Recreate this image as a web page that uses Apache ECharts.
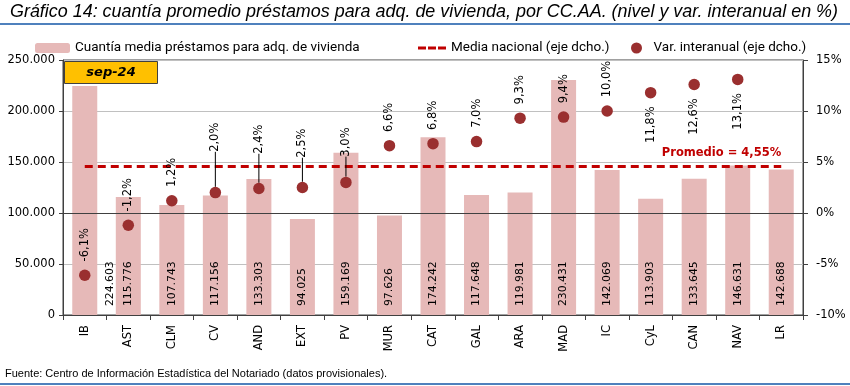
<!DOCTYPE html>
<html>
<head>
<meta charset="utf-8">
<script src="https://cdn.jsdelivr.net/npm/echarts@6/dist/echarts.min.js"></script>
<style>
html,body{margin:0;padding:0;background:#fff;}
#chart{width:850px;height:386px;}
</style>
</head>
<body>
<div id="chart"></div>
<script>
// ---- data ----
const categories = ['IB','AST','CLM','CV','AND','EXT','PV','MUR','CAT','GAL','ARA','MAD','IC','CyL','CAN','NAV','LR'];
const amounts = [224603,115776,107743,117156,133303,94025,159169,97626,174242,117648,119981,230431,142069,113903,133645,146631,142688];
const variation = [-6.1,-1.2,1.2,2.0,2.4,2.5,3.0,6.6,6.8,7.0,9.3,9.4,10.0,11.8,12.6,13.1,null];
const nationalAvg = 4.55;
const leftAxisTicks = [0,50000,100000,150000,200000,250000];
const rightAxisTicks = [-10,-5,0,5,10,15];
const periodLabel = 'sep-24';
const titleText = 'Gráfico 14: cuantía promedio préstamos para adq. de vivienda, por CC.AA. (nivel y var. interanual en %)';
const sourceText = 'Fuente: Centro de Información Estadística del Notariado (datos provisionales).';

// ---- label placement (style only) ----
const labelsBelow = ['CyL','CAN','NAV'];
const leaderShift = {CV:27, AND:21, EXT:16, PV:12};
const barLabelShift = {IB:25};

const FONT = 'DejaVu Sans';
const LEGFONT = 'Roboto';
const fmtThousands = v => String(v).replace(/\B(?=(\d{3})+(?!\d))/g,'.');
const fmtPct = (v,d) => v.toFixed(d===undefined?1:d).replace('.',',') + '%';

// measure title to squeeze it like a narrow font
const mc = document.createElement('canvas').getContext('2d');
mc.font = 'italic 19px "Liberation Sans"';
const titleScale = 828 / mc.measureText(titleText).width;

const chart = echarts.init(document.getElementById('chart'), null, {renderer:'canvas'});

const barData = amounts.map((v,i)=>{
  const c = categories[i];
  const o = {value:v};
  if (barLabelShift[c]) o.label = {offset:[0,barLabelShift[c]]};
  return o;
});

const scatterData = variation.map((v,i)=>{
  if (v === null) return {value:null};
  const c = categories[i];
  const below = labelsBelow.indexOf(c) >= 0;
  const o = {
    value:v,
    label: below ? {position:'bottom', align:'right'} : {position:'top', align:'left'}
  };
  if (leaderShift[c] !== undefined) o.labelLine = {show:true};
  return o;
});

const avgData = categories.map(()=>nationalAvg);

const option = {
  animation:false,
  backgroundColor:'#ffffff',
  legend:[
    {data:['Cuantía media préstamos para adq. de vivienda'], left:30, top:36, itemWidth:35, itemHeight:10, itemGap:0,
     textStyle:{fontFamily:LEGFONT, fontSize:13.5, color:'#000'}},
    {data:[{name:'Media nacional (eje dcho.)', icon:'path://M0,0H8V3H0Z M10,0H18V3H10Z M20,0H28V3H20Z'}],
     left:413, top:36, itemWidth:28, itemHeight:3,
     textStyle:{fontFamily:LEGFONT, fontSize:13.5, color:'#000'}},
    {data:[{name:'Var. interanual (eje dcho.)', icon:'circle'}], left:626, top:36, itemWidth:24, itemHeight:11,
     textStyle:{fontFamily:LEGFONT, fontSize:13.5, color:'#000'}}
  ],
  grid:{left:63, right:47, top:60, bottom:71, show:true, borderColor:'#404040', borderWidth:1, backgroundColor:'transparent'},
  xAxis:{
    type:'category', data:categories, boundaryGap:true,
    axisLine:{show:true, lineStyle:{color:'#404040', width:1}},
    axisTick:{show:true, alignWithLabel:false, length:5, lineStyle:{color:'#404040'}},
    axisLabel:{rotate:90, margin:10, fontFamily:FONT, fontSize:11.5, color:'#000', interval:0},
    splitLine:{show:false}
  },
  yAxis:[
    {type:'value', min:leftAxisTicks[0], max:leftAxisTicks[leftAxisTicks.length-1], interval:leftAxisTicks[1]-leftAxisTicks[0],
     position:'left',
     axisLine:{show:true, lineStyle:{color:'#404040'}},
     axisTick:{show:true, inside:false, length:4, lineStyle:{color:'#404040'}},
     axisLabel:{margin:8, fontFamily:FONT, fontSize:11.5, color:'#000', formatter:v=>fmtThousands(v)},
     splitLine:{show:true, lineStyle:{color:'#C0C0C0', width:1}}
    },
    {type:'value', min:rightAxisTicks[0], max:rightAxisTicks[rightAxisTicks.length-1], interval:rightAxisTicks[1]-rightAxisTicks[0],
     position:'right',
     axisLine:{show:true, lineStyle:{color:'#404040'}},
     axisTick:{show:true, inside:false, length:5, lineStyle:{color:'#404040'}},
     axisLabel:{margin:13, fontFamily:FONT, fontSize:11.5, color:'#000', formatter:v=>v+'%'},
     splitLine:{show:false}
    }
  ],
  series:[
    {
      name:'Cuantía media préstamos para adq. de vivienda',
      type:'bar', yAxisIndex:0, data:barData, barWidth:25,
      itemStyle:{color:'#E6B9B8'},
      label:{show:true, position:'insideBottom', rotate:90, align:'left', verticalAlign:'middle', distance:9,
        fontFamily:FONT, fontSize:10.8, color:'#000', formatter:p=>fmtThousands(p.value)}
    },
    {
      name:'Media nacional (eje dcho.)',
      type:'line', yAxisIndex:1, data:avgData, symbol:'none', z:3,
      lineStyle:{color:'#C00000', width:3, type:[8,5]},
      itemStyle:{color:'#C00000'},
      endLabel:{show:true, align:'right', verticalAlign:'bottom', distance:0, offset:[0,-8],
        formatter:()=>'Promedio = ' + fmtPct(nationalAvg,2), color:'#C00000', fontFamily:FONT, fontWeight:'bold', fontSize:11.5}
    },
    {
      name:'Var. interanual (eje dcho.)',
      type:'scatter', yAxisIndex:1, data:scatterData, symbolSize:11.5, z:4,
      itemStyle:{color:'#9A2F2F', opacity:1},
      label:{show:true, rotate:90, verticalAlign:'middle', distance:8,
        fontFamily:FONT, fontSize:11.5, color:'#000', formatter:p=>fmtPct(p.value)},
      labelLine:{show:false, lineStyle:{color:'#000', width:1}},
      labelLayout:function(p){
        const c = categories[p.dataIndex];
        if (leaderShift[c] !== undefined) return {dx:leaderShift[c]};
        return {};
      },
      markLine:{silent:true, symbol:'none', label:{show:false},
        lineStyle:{color:'#404040', width:1, type:'solid'},
        data:[{yAxis:0}]}
    }
  ],
  graphic:[
    {type:'text', x:424, y:12, scaleX:titleScale, style:{text:titleText, fontFamily:'Liberation Sans', fontStyle:'italic',
      fontSize:19, fill:'#000', align:'center', verticalAlign:'middle'}},
    {type:'line', shape:{x1:0, y1:24, x2:850, y2:24}, style:{stroke:'#4F81BD', lineWidth:2}},
    {type:'line', shape:{x1:0, y1:384, x2:850, y2:384}, style:{stroke:'#4F81BD', lineWidth:2}},
    {type:'group', left:64, top:61, children:[
      {type:'rect', shape:{x:0, y:0, width:93, height:22}, style:{fill:'#FFC000', stroke:'#404040', lineWidth:1}},
      {type:'text', x:46.5, y:11, style:{text:periodLabel, fontFamily:FONT, fontSize:13, fontWeight:'bold', fontStyle:'italic',
        fill:'#000', align:'center', verticalAlign:'middle'}}
    ]},
    {type:'text', left:5, top:368, style:{text:sourceText, fontFamily:'Liberation Sans', fontSize:11, fill:'#000'}}
  ]
};
chart.setOption(option);
</script>
</body>
</html>
